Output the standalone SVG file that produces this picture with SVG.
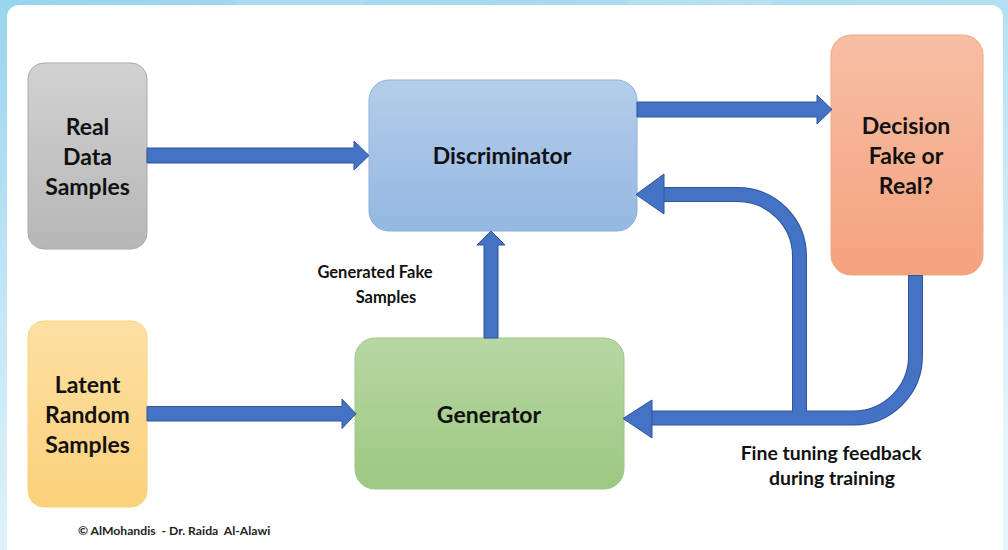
<svg xmlns="http://www.w3.org/2000/svg" width="1008" height="550" viewBox="0 0 1008 550">
  <defs>
    <linearGradient id="bg" x1="0" y1="0" x2="0.35" y2="1">
      <stop offset="0" stop-color="#98d4ee"/>
      <stop offset="0.5" stop-color="#c4e6f6"/>
      <stop offset="1" stop-color="#e6f4fb"/>
    </linearGradient>
    <linearGradient id="gGray" x1="0" y1="0" x2="0" y2="1">
      <stop offset="0" stop-color="#d2d2d2"/>
      <stop offset="1" stop-color="#b6b6b6"/>
    </linearGradient>
    <linearGradient id="gBlue" x1="0" y1="0" x2="0" y2="1">
      <stop offset="0" stop-color="#b4cdea"/>
      <stop offset="1" stop-color="#94b8e2"/>
    </linearGradient>
    <linearGradient id="gPeach" x1="0" y1="0" x2="0" y2="1">
      <stop offset="0" stop-color="#f7bea4"/>
      <stop offset="1" stop-color="#f4a27e"/>
    </linearGradient>
    <linearGradient id="gYellow" x1="0" y1="0" x2="0" y2="1">
      <stop offset="0" stop-color="#fde0a3"/>
      <stop offset="1" stop-color="#fbd17a"/>
    </linearGradient>
    <linearGradient id="gGreen" x1="0" y1="0" x2="0" y2="1">
      <stop offset="0" stop-color="#b7d7a3"/>
      <stop offset="1" stop-color="#9dc882"/>
    </linearGradient>
  </defs>
  <style>
    .lbl { font-family: Lato, "Open Sans", "Liberation Sans", sans-serif; font-weight: bold; fill: #111; text-anchor: middle; }
    .box { font-size: 23px; }
    .note { font-size: 19.4px; }
    .fake { font-size: 16.5px; }
    .credit { font-size: 12.2px; text-anchor: start; fill: #222; white-space: pre; }
    .arrow { fill: #4472c4; stroke: #2f5597; stroke-width: 1; stroke-linejoin: miter; }
    .band-edge { fill: none; stroke: #2f5597; stroke-width: 15; }
    .band { fill: none; stroke: #4472c4; stroke-width: 13; }
  </style>

  <!-- page backdrop and white card -->
  <rect x="0" y="0" width="1008" height="550" fill="url(#bg)"/>
  <circle cx="300" cy="-60" r="90" fill="#ffffff" opacity="0.12"/>
  <circle cx="700" cy="-80" r="110" fill="#ffffff" opacity="0.12"/>
  <rect x="7" y="5" width="996" height="560" rx="12" fill="#ffffff"/>

  <!-- nodes -->
  <g id="real-data">
    <rect x="28" y="63" width="119" height="186" rx="16" fill="url(#gGray)" stroke="#aaaaaa" stroke-width="1"/>
    <text class="lbl box" x="87.5" y="135">Real</text>
    <text class="lbl box" x="87.5" y="165">Data</text>
    <text class="lbl box" x="87.5" y="195">Samples</text>
  </g>

  <g id="discriminator">
    <rect x="369" y="80" width="268" height="151" rx="20" fill="url(#gBlue)" stroke="#8fb0dc" stroke-width="1"/>
    <text class="lbl box" x="502" y="164">Discriminator</text>
  </g>

  <g id="decision">
    <rect x="831" y="35" width="152" height="240" rx="20" fill="url(#gPeach)" stroke="#f0a884" stroke-width="1"/>
    <text class="lbl box" x="906" y="134">Decision</text>
    <text class="lbl box" x="906" y="164">Fake or</text>
    <text class="lbl box" x="906" y="194">Real?</text>
  </g>

  <g id="latent">
    <rect x="28" y="321" width="119" height="186" rx="16" fill="url(#gYellow)" stroke="#f8d27e" stroke-width="1"/>
    <text class="lbl box" x="87.5" y="393">Latent</text>
    <text class="lbl box" x="87.5" y="423">Random</text>
    <text class="lbl box" x="87.5" y="453">Samples</text>
  </g>

  <g id="generator">
    <rect x="355" y="338" width="269" height="151" rx="20" fill="url(#gGreen)" stroke="#9cc886" stroke-width="1"/>
    <text class="lbl box" x="489" y="423">Generator</text>
  </g>

  <!-- connectors -->
  <g id="connectors">
    <!-- real samples into discriminator -->
    <path class="arrow" d="M147,148 H354 V141 L369,155.5 L354,170 V163 H147 Z"/>
    <!-- discriminator to decision -->
    <path class="arrow" d="M637,102 H817 V95 L832,109.5 L817,124 V117 H637 Z"/>
    <!-- latent samples into generator -->
    <path class="arrow" d="M147,406.5 H342 V399 L356,413.8 L342,428.5 V421 H147 Z"/>
    <!-- generator output up to discriminator -->
    <path class="arrow" d="M484,338 V245 H477 L491,231 L505,245 H498 V338 Z"/>

    <!-- feedback loop: decision back to generator, branching to discriminator -->
    <path class="band-edge" d="M915.5,275 V356 A62,62 0 0 1 853.5,418 H651"/>
    <path class="band-edge" d="M799.5,418 V256.5 A62,62 0 0 0 737.5,194.5 H663"/>
    <path class="band" d="M799.5,418 V256.5 A62,62 0 0 0 737.5,194.5 H663"/>
    <path class="band" d="M915.5,276 V356 A62,62 0 0 1 853.5,418 H651"/>
    <path class="arrow" d="M652,400 L623,418.5 L652,438 Z"/>
    <path class="arrow" d="M664,174 L636,194.5 L664,214 Z"/>
  </g>

  <!-- free labels -->
  <text class="lbl fake" x="375" y="278">Generated Fake</text>
  <text class="lbl fake" x="386" y="303">Samples</text>
  <text class="lbl note" x="831" y="460">Fine tuning feedback</text>
  <text class="lbl note" x="832" y="485">during training</text>
  <text class="lbl credit" x="78" y="535">© AlMohandis  - Dr. Raida  Al-Alawi</text>
</svg>
